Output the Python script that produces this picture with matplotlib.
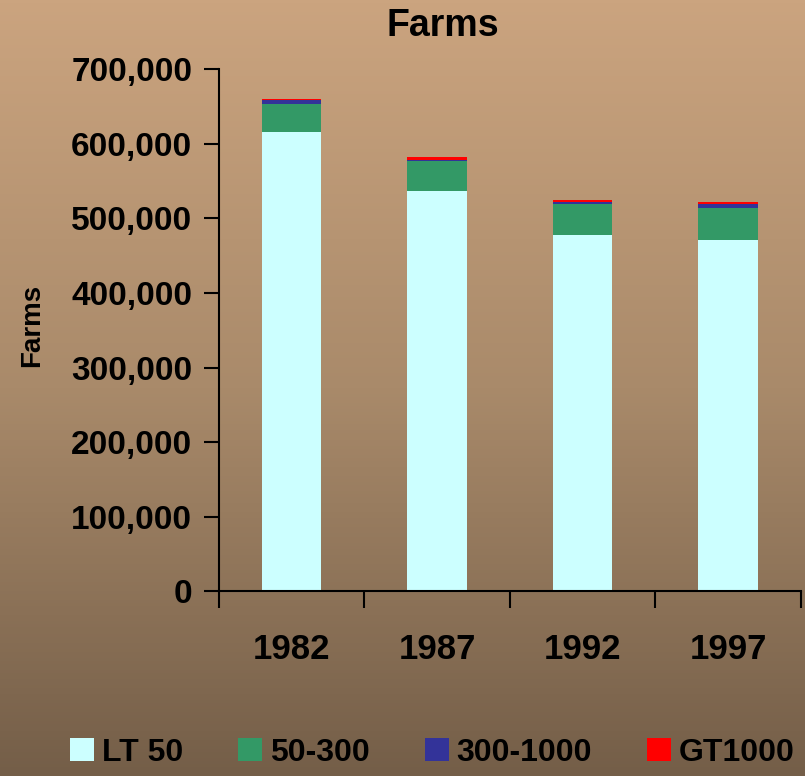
import matplotlib.pyplot as plt
import numpy as np
from matplotlib.colors import LinearSegmentedColormap
from matplotlib.ticker import FuncFormatter
from matplotlib.patches import Patch

years = ["1982", "1987", "1992", "1997"]
lt50 = [615000, 537000, 477000, 471500]
mid_50_300 = [38500, 40200, 42500, 42500]
mid_300_1000 = [5400, 1300, 2700, 5400]
gt1000 = [600, 3000, 2700, 3000]

series = [
    ("LT 50", lt50, "#CCFFFF"),
    ("50-300", mid_50_300, "#339966"),
    ("300-1000", mid_300_1000, "#333399"),
    ("GT1000", gt1000, "#FF0000"),
]

plt.rcParams["font.family"] = ["Liberation Sans", "DejaVu Sans"]
plt.rcParams["font.weight"] = "bold"

fig = plt.figure(figsize=(8.05, 7.76), dpi=100)

# gradient background
bg = fig.add_axes([0, 0, 1, 1], zorder=-10)
cmap = LinearSegmentedColormap.from_list("bg", ["#CBA47F", "#A98A6A", "#745E48"])
bg.imshow(np.linspace(0, 1, 256).reshape(-1, 1), aspect="auto", cmap=cmap,
          extent=[0, 1, 0, 1])
bg.axis("off")

ax = fig.add_axes([0.2716, 0.2378, 0.7234, 0.6733])
ax.patch.set_alpha(0)

x = np.arange(len(years))
bottom = np.zeros(len(years))
for name, vals, col in series:
    ax.bar(x, vals, width=0.41, bottom=bottom, color=col, label=name)
    bottom += np.array(vals)

ax.set_xlim(-0.5, 3.5)
ax.set_ylim(0, 700000)
ax.set_yticks(range(0, 700001, 100000))
ax.yaxis.set_major_formatter(FuncFormatter(lambda v, p: f"{int(v):,}"))
ax.set_xticks([-0.5, 0.5, 1.5, 2.5, 3.5])
ax.set_xticklabels([])
ax.set_xticks(x, minor=True)
ax.set_xticklabels(years, minor=True)
ax.tick_params(axis="x", which="minor", length=0, pad=30, labelsize=25)
ax.tick_params(axis="x", which="major", direction="out", length=12, width=1.5)
ax.tick_params(axis="y", direction="out", length=11, width=1.5, labelsize=24, pad=8)
for s in ["top", "right"]:
    ax.spines[s].set_visible(False)
for s in ["left", "bottom"]:
    ax.spines[s].set_linewidth(1.5)

fig.text(0.55, 0.967, "Farms", ha="center", va="center", fontsize=27, fontweight="bold")
fig.text(0.04, 0.58, "Farms", ha="center", va="center", rotation=90, fontsize=20,
         fontweight="bold")

handles = [Patch(facecolor=c, label=n) for n, _, c in series]
fig.legend(handles=handles, loc="center", bbox_to_anchor=(0.537, 0.03), ncol=4,
           frameon=False, fontsize=23, handlelength=0.75, handleheight=0.75,
           handletextpad=0.25, columnspacing=1.72, borderpad=0)

fig.savefig("out.png", dpi=100)
